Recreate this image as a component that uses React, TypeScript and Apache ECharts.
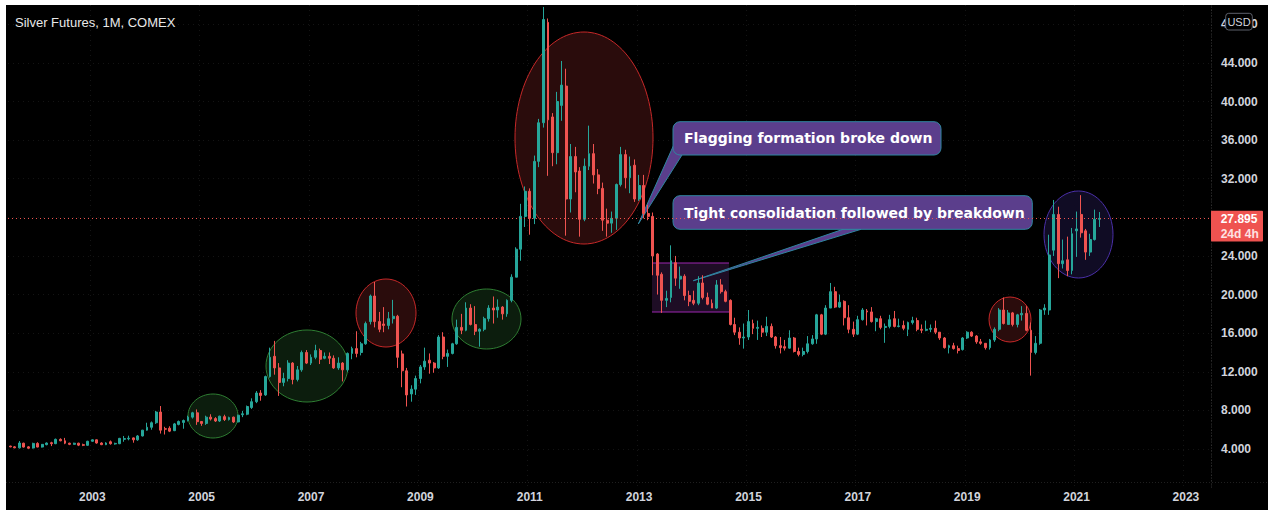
import React, { useEffect, useRef } from "react";
import * as echarts from "echarts";

// ---- categories: monthly bars Jul 2001 .. Jun 2023 (last 24 are empty future space)
const startYear = 2001;
const startMonth = 7;
const monthCount = 264;
const months: string[] = Array.from({ length: monthCount }, (_, i) => {
  const t = startMonth - 1 + i;
  const y = startYear + Math.floor(t / 12);
  const m = (t % 12) + 1;
  return `${y}-${m < 10 ? "0" + m : m}`;
});

// ---- OHLC rows: [open, close, low, high]
const y2001 = [
  [4.3, 4.22, 4.18, 4.34], [4.22, 4.12, 4.08, 4.3], [4.12, 4.62, 4.05, 4.82],
  [4.6, 4.2, 4.15, 4.65], [4.22, 4.08, 4.02, 4.3], [4.1, 4.58, 4.05, 4.65],
];
const y2002 = [
  [4.58, 4.2, 4.17, 4.7], [4.2, 4.48, 4.15, 4.52], [4.45, 4.62, 4.38, 4.68],
  [4.65, 4.55, 4.3, 4.75], [4.55, 5.0, 4.5, 5.08], [5.0, 4.85, 4.8, 5.1],
  [4.85, 4.6, 4.5, 5.15], [4.6, 4.48, 4.4, 4.65], [4.48, 4.6, 4.45, 4.65],
  [4.6, 4.4, 4.3, 4.65], [4.45, 4.38, 4.3, 4.55], [4.38, 4.8, 4.35, 4.85],
];
const y2003 = [
  [4.8, 4.95, 4.75, 5.0], [4.95, 4.62, 4.55, 4.98], [4.62, 4.45, 4.4, 4.7],
  [4.45, 4.62, 4.4, 4.7], [4.75, 4.55, 4.45, 4.88], [4.52, 4.58, 4.45, 4.65],
  [4.55, 5.1, 4.5, 5.15], [5.0, 5.08, 4.75, 5.35], [5.05, 5.12, 4.9, 5.38],
  [5.15, 4.95, 4.65, 5.2], [4.95, 5.35, 4.85, 5.45], [5.35, 5.95, 5.3, 5.98],
];
const y2004 = [
  [5.95, 6.25, 5.9, 6.72], [6.25, 6.72, 6.0, 6.85], [6.72, 7.83, 6.6, 7.95],
  [7.83, 5.95, 5.6, 8.45], [6.1, 6.05, 5.5, 6.3], [6.15, 5.85, 5.75, 6.35],
  [5.9, 6.6, 5.85, 6.7], [6.55, 6.85, 6.45, 6.95], [6.75, 6.95, 6.1, 7.05],
  [6.95, 7.3, 6.85, 7.45], [7.3, 7.75, 7.15, 7.85], [7.75, 6.83, 6.5, 8.1],
];
const y2005 = [
  [6.85, 6.65, 6.4, 6.9], [6.65, 7.3, 6.5, 7.45], [7.3, 7.1, 6.95, 7.6],
  [7.15, 6.9, 6.8, 7.3], [6.9, 7.4, 6.8, 7.45], [7.35, 7.05, 6.9, 7.55],
  [7.05, 7.25, 6.95, 7.35], [7.3, 6.8, 6.7, 7.35], [6.8, 7.5, 6.75, 7.55],
  [7.55, 7.65, 7.3, 7.95], [7.6, 8.4, 7.5, 8.5], [8.3, 8.9, 8.15, 9.25],
];
const y2006 = [
  [8.9, 9.8, 8.75, 10.0], [9.8, 9.55, 9.0, 10.1], [9.6, 11.5, 9.5, 11.6],
  [11.5, 13.5, 11.4, 14.5], [13.6, 12.4, 11.7, 15.2], [12.4, 10.9, 9.5, 12.9],
  [10.9, 11.3, 10.5, 11.9], [11.3, 12.9, 11.0, 13.2], [12.9, 11.2, 10.7, 13.0],
  [11.2, 12.2, 11.0, 12.6], [12.2, 14.0, 12.0, 14.2], [14.0, 12.9, 12.8, 14.25],
];
const y2007 = [
  [12.9, 13.5, 12.7, 13.8], [13.5, 14.2, 13.3, 14.8], [14.2, 13.3, 12.8, 14.4],
  [13.4, 13.6, 13.3, 14.0], [13.6, 13.4, 12.8, 14.0], [13.4, 12.4, 12.3, 13.7],
  [12.4, 12.9, 12.2, 13.5], [12.9, 12.2, 11.0, 13.0], [12.2, 13.9, 12.0, 14.0],
  [13.9, 14.4, 13.3, 14.6], [14.4, 13.9, 13.5, 16.2], [14.0, 14.9, 13.7, 15.1],
];
const y2008 = [
  [14.9, 17.0, 14.8, 17.2], [17.2, 19.85, 16.9, 20.0], [19.85, 17.2, 16.6, 21.3],
  [17.2, 16.4, 16.1, 18.2], [16.95, 16.8, 16.1, 18.7], [16.8, 17.5, 16.4, 18.2],
  [17.5, 17.75, 17.0, 19.45], [17.75, 13.5, 12.4, 17.9], [13.85, 12.1, 10.4, 14.2],
  [12.1, 9.6, 8.4, 12.4], [9.7, 10.2, 8.9, 10.6], [10.2, 11.3, 9.6, 11.6],
];
const y2009 = [
  [11.3, 12.5, 10.8, 12.7], [12.5, 13.1, 12.2, 14.5], [13.2, 12.9, 11.8, 13.9],
  [12.9, 12.4, 11.9, 13.0], [12.4, 15.6, 12.3, 15.8], [15.6, 13.6, 13.3, 16.1],
  [13.6, 13.9, 12.5, 14.3], [13.9, 14.9, 13.8, 15.0], [14.9, 16.6, 14.8, 17.4],
  [16.6, 16.3, 15.9, 18.0], [16.3, 18.6, 16.2, 19.2], [18.6, 16.9, 16.8, 19.0],
];
const y2010 = [
  [16.9, 16.2, 15.8, 18.8], [16.2, 16.4, 14.6, 16.5], [16.4, 17.5, 16.2, 17.7],
  [17.5, 18.6, 17.2, 18.9], [18.6, 18.4, 17.0, 19.8], [18.4, 18.7, 17.6, 19.5],
  [18.7, 18.0, 17.4, 18.8], [18.0, 19.4, 17.7, 19.5], [19.4, 21.8, 19.2, 22.1],
  [21.8, 24.7, 21.8, 24.9], [24.7, 28.1, 23.5, 29.4], [28.1, 30.7, 27.0, 31.2],
];
const y2011 = [
  [30.7, 27.9, 26.2, 31.0], [27.9, 33.8, 27.3, 34.4], [33.8, 37.8, 33.2, 38.2],
  [37.8, 48.5, 37.3, 49.8], [48.2, 38.1, 32.3, 48.6], [38.4, 34.7, 33.3, 38.8],
  [34.7, 40.0, 33.5, 41.0], [39.6, 41.7, 38.0, 44.2], [41.6, 29.9, 26.1, 43.4],
  [29.9, 34.3, 28.5, 35.6], [34.3, 32.7, 30.6, 35.3], [32.8, 27.8, 26.0, 33.2],
];
const y2012 = [
  [27.8, 33.3, 27.6, 34.1], [33.3, 34.6, 32.9, 37.5], [34.6, 32.4, 31.5, 35.6],
  [32.4, 31.0, 30.4, 33.0], [31.0, 27.7, 26.6, 31.6], [27.7, 27.4, 26.0, 28.9],
  [27.4, 27.9, 26.4, 28.6], [27.9, 31.4, 26.7, 31.5], [31.4, 34.5, 31.2, 35.3],
  [34.5, 32.1, 31.0, 35.0], [32.1, 33.3, 30.5, 34.3], [33.4, 29.9, 29.6, 34.0],
];
const y2013 = [
  [29.9, 31.3, 29.7, 32.4], [31.3, 28.4, 27.9, 32.4], [28.4, 28.1, 27.7, 29.3],
  [28.1, 24.0, 22.0, 28.5], [24.2, 22.0, 20.0, 24.3], [22.1, 19.4, 18.1, 22.3],
  [19.4, 19.6, 18.7, 20.4], [19.7, 23.5, 19.2, 25.1], [23.3, 21.7, 20.9, 24.0],
  [21.6, 21.9, 20.6, 22.9], [21.9, 19.9, 19.4, 22.1], [19.9, 19.3, 18.8, 20.4],
];
const y2014 = [
  [19.4, 19.1, 18.9, 20.4], [19.1, 21.2, 18.9, 21.9], [21.2, 19.7, 19.5, 22.0],
  [19.7, 19.0, 18.9, 20.2], [19.1, 18.6, 18.6, 19.5], [18.6, 21.0, 18.5, 21.5],
  [21.0, 20.3, 20.1, 21.6], [20.3, 19.3, 19.2, 20.5], [19.4, 16.9, 16.8, 19.5],
  [16.9, 16.1, 15.8, 17.6], [16.1, 15.5, 14.8, 16.6], [15.5, 15.6, 14.4, 17.0],
];
const y2015 = [
  [15.6, 17.2, 15.3, 18.4], [17.0, 16.5, 15.9, 17.4], [16.5, 16.6, 15.3, 17.3],
  [16.5, 16.1, 15.6, 16.8], [16.1, 16.7, 15.7, 17.7], [16.7, 15.6, 15.5, 17.0],
  [15.6, 14.7, 14.4, 15.7], [14.7, 14.5, 13.9, 15.6], [14.6, 14.45, 14.2, 15.3],
  [14.45, 15.5, 14.4, 16.3], [15.5, 14.1, 14.0, 15.6], [14.1, 13.8, 13.6, 14.5],
];
const y2016 = [
  [13.8, 14.1, 13.6, 14.5], [14.1, 14.9, 13.9, 15.7], [14.9, 15.4, 14.8, 15.8],
  [15.4, 17.9, 14.9, 18.0], [17.9, 15.9, 15.8, 18.0], [15.9, 18.6, 15.8, 18.9],
  [18.6, 20.3, 18.6, 21.2], [20.3, 18.7, 18.6, 20.8], [18.7, 19.2, 18.6, 20.0],
  [19.3, 17.6, 16.8, 19.4], [17.6, 16.4, 16.0, 18.9], [16.4, 15.9, 15.6, 17.2],
];
const y2017 = [
  [15.9, 17.4, 15.8, 17.8], [17.4, 18.4, 17.3, 18.6], [18.3, 18.2, 16.8, 18.5],
  [18.2, 17.2, 17.1, 18.7], [17.2, 17.5, 16.2, 17.6], [17.5, 16.6, 16.4, 17.8],
  [16.6, 16.7, 15.0, 17.0], [16.7, 17.4, 16.5, 17.9], [17.5, 16.7, 16.6, 18.3],
  [16.7, 16.75, 16.6, 17.5], [16.8, 16.5, 16.3, 17.3], [16.4, 17.1, 15.7, 17.2],
];
const y2018 = [
  [17.1, 17.3, 16.9, 17.7], [17.3, 16.4, 16.2, 17.6], [16.4, 16.3, 16.0, 16.9],
  [16.3, 16.4, 16.2, 17.3], [16.4, 16.5, 16.1, 16.9], [16.5, 16.1, 15.9, 17.3],
  [16.1, 15.5, 15.3, 16.1], [15.5, 14.5, 14.4, 15.6], [14.5, 14.7, 13.9, 14.8],
  [14.7, 14.4, 14.3, 15.0], [14.4, 14.2, 13.9, 14.7], [14.3, 15.5, 14.2, 15.6],
];
const y2019 = [
  [15.5, 16.1, 15.4, 16.2], [16.1, 15.7, 15.6, 16.2], [15.7, 15.1, 14.9, 15.8],
  [15.1, 14.95, 14.8, 15.4], [14.95, 14.5, 14.3, 14.95], [14.5, 15.3, 14.3, 15.4],
  [15.3, 16.4, 15.1, 16.6], [16.4, 18.4, 16.2, 18.6], [18.4, 17.0, 16.9, 19.7],
  [16.9, 18.1, 16.9, 18.4], [18.1, 16.9, 16.7, 18.2], [16.9, 17.9, 16.6, 18.0],
];
const y2020 = [
  [17.9, 18.05, 17.3, 18.8], [18.05, 16.3, 16.2, 18.8], [16.3, 14.0, 11.6, 17.1],
  [14.0, 14.95, 13.8, 15.7], [14.95, 18.4, 14.8, 18.5], [18.4, 18.6, 17.9, 19.0],
  [18.4, 24.1, 17.9, 26.2], [24.6, 28.3, 24.0, 29.8], [28.3, 23.2, 21.7, 29.1],
  [23.2, 23.5, 22.7, 25.7], [23.6, 22.5, 21.9, 26.0], [22.5, 26.3, 22.1, 26.9],
];
const y2021 = [
  [26.6, 26.8, 23.9, 28.6], [28.3, 26.4, 25.9, 30.3], [26.6, 24.4, 23.6, 26.8],
  [24.4, 25.7, 24.0, 26.3], [25.7, 27.8, 25.6, 28.8], [27.8, 27.895, 27.0, 28.55],
];
const candles = [
  ...y2001, ...y2002, ...y2003, ...y2004, ...y2005, ...y2006, ...y2007,
  ...y2008, ...y2009, ...y2010, ...y2011, ...y2012, ...y2013, ...y2014,
  ...y2015, ...y2016, ...y2017, ...y2018, ...y2019, ...y2020, ...y2021,
];

const lastPrice = 27.895;
const countdown = "24d 4h";
const yTickStep = 4;

// ---- drawn annotations (pixel positions inside the chart, as drawn by hand)
const greenEllipses = [
  { cx: 207, cy: 411, rx: 25, ry: 22 },
  { cx: 301, cy: 361, rx: 41, ry: 36 },
  { cx: 480.5, cy: 314, rx: 34.5, ry: 30 },
];
const redEllipses = [
  { cx: 380, cy: 308, rx: 30, ry: 34 },
  { cx: 578, cy: 133, rx: 69, ry: 106 },
  { cx: 1004, cy: 314.5, rx: 21, ry: 22.5 },
];
const blueEllipses = [{ cx: 1072.5, cy: 229.5, rx: 34.5, ry: 43.5 }];
const callouts = [
  {
    text: "Flagging formation broke down",
    box: { x: 667, y: 116.7, w: 268, h: 33.3 },
    tail: [[667.3, 141], [676, 150], [632.3, 219]],
  },
  {
    text: "Tight consolidation followed by breakdown",
    box: { x: 667, y: 190.7, w: 359.3, h: 33.6 },
    tail: [[837, 224.3], [855, 224.3], [687.3, 275.7]],
  },
];
const consolidationBox = { x: 646, y: 258, w: 77, h: 49 };

const UP = "#26a69a";
const DOWN = "#ef5350";
const AXIS_TEXT = "#d1d4dc";
const FONT = "Liberation Sans, Arial, sans-serif";

function ellipse(e: any, stroke: string, fill: string) {
  return {
    type: "ellipse",
    z: 1,
    silent: true,
    shape: { cx: e.cx, cy: e.cy, rx: e.rx, ry: e.ry },
    style: { fill, stroke, lineWidth: 1 },
  };
}

export default function App() {
  const ref = useRef<HTMLDivElement>(null);

  useEffect(() => {
    if (!ref.current) return;
    const chart = echarts.init(ref.current, undefined, { renderer: "svg" });
    const isYearLabel = (_i: number, v: string) => {
      const [y, m] = v.split("-");
      return m === "01" && Number(y) % 2 === 1;
    };
    chart.setOption({
      animation: false,
      backgroundColor: "#000000",
      grid: { left: 2, right: 57, top: 0, bottom: 22.4, containLabel: false },
      xAxis: {
        type: "category",
        data: months,
        boundaryGap: true,
        axisLine: { show: false },
        axisTick: { show: false },
        axisLabel: {
          interval: isYearLabel,
          formatter: (v: string) => v.slice(0, 4),
          color: AXIS_TEXT,
          fontFamily: FONT,
          fontSize: 12,
          fontWeight: "bold",
          margin: 3,
        },
        splitLine: {
          show: true,
          interval: isYearLabel,
          lineStyle: { color: "rgba(255,255,255,0.08)", type: [1, 4], width: 1 },
        },
      },
      yAxis: {
        type: "value",
        position: "right",
        min: 0,
        max: 50,
        interval: yTickStep,
        axisLine: {
          show: true,
          lineStyle: { color: "rgba(255,255,255,0.12)", type: [1, 2] },
        },
        axisTick: { show: false },
        axisLabel: {
          showMinLabel: false,
          showMaxLabel: false,
          formatter: (v: number) => v.toFixed(3),
          color: AXIS_TEXT,
          fontFamily: FONT,
          fontSize: 12,
          fontWeight: "bold",
          margin: 10,
        },
        splitLine: {
          show: true,
          showMinLine: false,
          showMaxLine: false,
          lineStyle: { color: "rgba(255,255,255,0.08)", type: [1, 4], width: 1 },
        },
      },
      series: [
        {
          type: "candlestick",
          data: candles,
          barWidth: 2.4,
          z: 2,
          itemStyle: {
            color: UP,
            color0: DOWN,
            borderColor: UP,
            borderColor0: DOWN,
            borderWidth: 1,
          },
          markLine: {
            silent: true,
            symbol: "none",
            label: { show: false },
            lineStyle: { color: DOWN, type: [1, 3], width: 1 },
            data: [{ yAxis: lastPrice }],
          },
        },
      ],
    });

    const py = chart.convertToPixel({ yAxisIndex: 0 }, lastPrice) as number;
    const gridRight = chart.getWidth() - 57;
    const elements: any[] = [];
    // separators
    elements.push({
      type: "line",
      z: 0,
      silent: true,
      shape: { x1: 0, y1: 477.5, x2: chart.getWidth(), y2: 477.5 },
      style: { stroke: "rgba(255,255,255,0.12)", lineDash: [1, 2], lineWidth: 1 },
    });
    greenEllipses.forEach((e) => elements.push(ellipse(e, "#2e7d32", "#0c1d0d")));
    redEllipses.forEach((e) => elements.push(ellipse(e, "#c62828", "#2a0c0c")));
    blueEllipses.forEach((e) => elements.push(ellipse(e, "#4a2fa8", "#100c24")));
    // consolidation rectangle
    const cb = consolidationBox;
    elements.push({
      type: "rect",
      z: 1,
      silent: true,
      shape: { x: cb.x, y: cb.y, width: cb.w, height: cb.h },
      style: { fill: "#1e0d25" },
    });
    elements.push({
      type: "line",
      z: 1,
      silent: true,
      shape: { x1: cb.x, y1: cb.y, x2: cb.x + cb.w, y2: cb.y },
      style: { stroke: "#9c27b0", lineWidth: 1.2 },
    });
    elements.push({
      type: "line",
      z: 1,
      silent: true,
      shape: { x1: cb.x, y1: cb.y + cb.h, x2: cb.x + cb.w, y2: cb.y + cb.h },
      style: { stroke: "#9c27b0", lineWidth: 1.2 },
    });
    // callouts
    callouts.forEach((c) => {
      elements.push({
        type: "polygon",
        z: 1,
        silent: true,
        shape: { points: c.tail },
        style: { fill: "#5b3e8c", stroke: "#2f86a0", lineWidth: 1 },
      });
      elements.push({
        type: "rect",
        z: 1,
        silent: true,
        shape: { x: c.box.x, y: c.box.y, width: c.box.w, height: c.box.h, r: 7 },
        style: { fill: "#5b3e8c", stroke: "#2f86a0", lineWidth: 1 },
      });
      elements.push({
        type: "text",
        z: 1,
        silent: true,
        x: c.box.x + 11,
        y: c.box.y + c.box.h / 2,
        style: {
          text: c.text,
          fill: "#ffffff",
          font: "bold 14px 'DejaVu Sans', Verdana, sans-serif",
          verticalAlign: "middle",
          align: "left",
        },
      });
    });
    // title
    elements.push({
      type: "text",
      z: 10,
      silent: true,
      x: 9,
      y: 17.7,
      style: {
        text: "Silver Futures, 1M, COMEX",
        fill: "#e8e8e8",
        font: `13px ${FONT}`,
        verticalAlign: "middle",
      },
    });
    // last price tag
    elements.push({
      type: "rect",
      z: 100,
      silent: true,
      shape: { x: gridRight, y: py - 7.6, width: 52, height: 30.8, r: 1 },
      style: { fill: "#ef5350" },
    });
    elements.push({
      type: "text",
      z: 101,
      silent: true,
      x: gridRight + 9.7,
      y: py + 1.1,
      style: {
        text: lastPrice.toFixed(3),
        fill: "#ffffff",
        font: `bold 12px ${FONT}`,
        verticalAlign: "middle",
      },
    });
    elements.push({
      type: "text",
      z: 101,
      silent: true,
      x: gridRight + 9.7,
      y: py + 15.4,
      style: {
        text: countdown,
        fill: "#fde3e3",
        font: `bold 12px ${FONT}`,
        verticalAlign: "middle",
      },
    });
    // currency badge
    elements.push({
      type: "rect",
      z: 100,
      silent: true,
      shape: { x: 1219.7, y: 8.3, width: 26.6, height: 16.7, r: 3 },
      style: { fill: "#000000", stroke: "#5d606b", lineWidth: 1 },
    });
    elements.push({
      type: "text",
      z: 101,
      silent: true,
      x: 1233,
      y: 16.8,
      style: {
        text: "USD",
        fill: AXIS_TEXT,
        font: `11px ${FONT}`,
        align: "center",
        verticalAlign: "middle",
      },
    });
    chart.setOption({ graphic: { elements } });

    return () => chart.dispose();
  }, []);

  return (
    <div
      style={{
        position: "fixed",
        left: 0,
        top: 0,
        width: 1274,
        height: 517,
        background: "#ffffff",
      }}
    >
      <div
        ref={ref}
        style={{ position: "absolute", left: 6, top: 5, width: 1262, height: 505 }}
      />
    </div>
  );
}
